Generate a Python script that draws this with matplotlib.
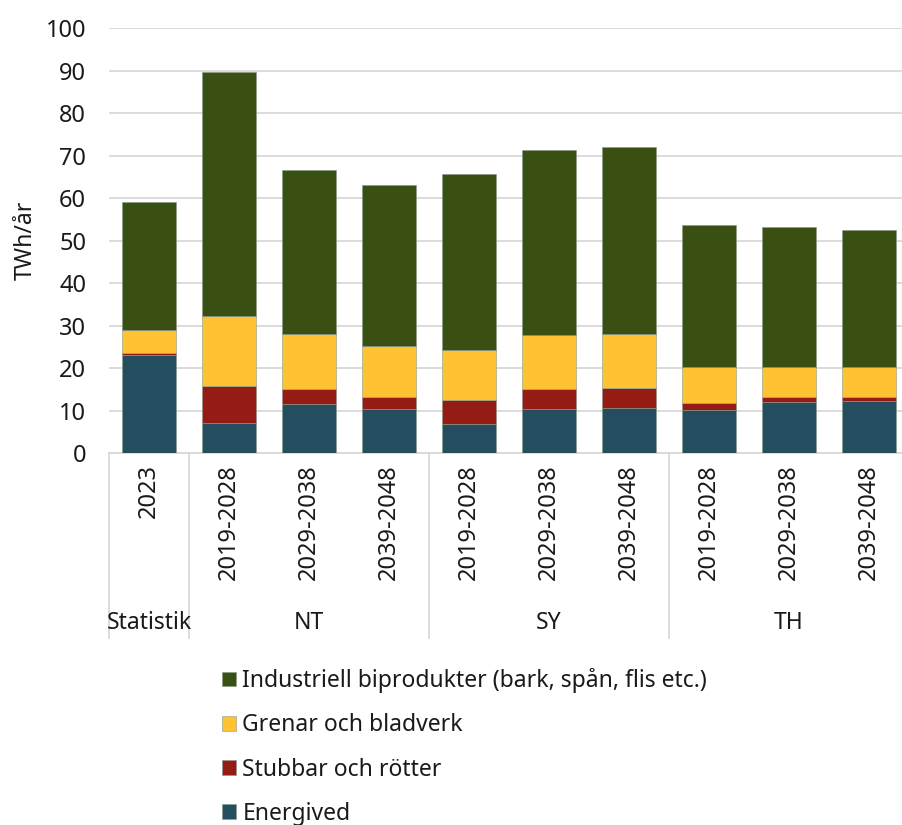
import numpy as np
import matplotlib
matplotlib.use("Agg")
from matplotlib import pyplot as plt
from matplotlib.lines import Line2D

plt.rcParams['font.family'] = ['Noto Sans', 'DejaVu Sans']

# data
groups = ['Statistik', 'NT', 'SY', 'TH']
group_sizes = [1, 3, 3, 3]
periods = ['2023', '2019-2028', '2029-2038', '2039-2048',
           '2019-2028', '2029-2038', '2039-2048',
           '2019-2028', '2029-2038', '2039-2048']

energived = [23.2, 7.2, 11.5, 10.3, 7.0, 10.3, 10.7, 10.1, 12.0, 12.2]
stubbar = [0.5, 8.6, 3.7, 3.0, 5.5, 4.8, 4.6, 1.7, 1.3, 1.1]
grenar = [5.2, 16.6, 12.8, 12.0, 11.9, 12.8, 12.8, 8.6, 7.1, 7.1]
industri = [30.2, 57.2, 38.7, 37.8, 41.3, 43.5, 43.9, 33.3, 32.8, 32.2]

series = [
    ('Energived', energived, '#244E5F'),
    ('Stubbar och rötter', stubbar, '#951B15'),
    ('Grenar och bladverk', grenar, '#FFC233'),
    ('Industriell biprodukter (bark, spån, flis etc.)', industri, '#3A4F12'),
]

TXT = '#1a1a1a'
FS = 16.5

W, H = 902, 825
fig = plt.figure(figsize=(W / 100, H / 100), dpi=100)
ax = fig.add_axes([109 / W, 1 - 453.3 / H, 800 / W, (453.3 - 28) / H])

x = np.arange(len(periods))
bottom = np.zeros(len(periods))
handles = []
for name, vals, col in series:
    b = ax.bar(x, vals, width=0.67, bottom=bottom, color=col,
               edgecolor='#8a9a8a', linewidth=0.4, label=name, zorder=3)
    handles.append(b)
    bottom += np.array(vals)

ax.set_xlim(-0.5, len(periods) - 0.5)
ax.set_ylim(0, 100)
ax.set_yticks(np.arange(0, 101, 10))
ax.tick_params(axis='y', length=0, labelsize=17, pad=16.5, colors=TXT)
ax.yaxis.grid(True, color='#D9D9D9', linewidth=1.3, zorder=0)
for s in ['top', 'right', 'left']:
    ax.spines[s].set_visible(False)
ax.spines['bottom'].set_color('#D9D9D9')
ax.spines['bottom'].set_linewidth(1.3)
ax.set_xticks([])
ax.set_ylabel('TWh/år', fontsize=FS, labelpad=6, color=TXT)

# category labels (two levels)
for i, p in enumerate(periods):
    ax.text(i, -2.6, p, rotation=90, ha='center', va='top',
            fontsize=17, color=TXT, clip_on=False)

line_bottom = -43.5
start = 0
bounds = [-0.5]
for g, n in zip(groups, group_sizes):
    center = start + (n - 1) / 2
    ax.text(center, -39.8, g, ha='center', va='center', fontsize=FS,
            color=TXT, clip_on=False)
    start += n
    bounds.append(start - 0.5)
for bx in bounds:
    ax.add_line(Line2D([bx, bx], [0, line_bottom], color='#D9D9D9',
                       linewidth=1.3, clip_on=False))

# legend
leg = fig.legend(handles[::-1], [s[0] for s in series][::-1],
                 loc='upper left', bbox_to_anchor=(213 / W, 1 - 659 / H),
                 frameon=False, fontsize=FS, labelspacing=0.88,
                 handlelength=0.6, handleheight=0.6, handletextpad=0.28,
                 borderaxespad=0)
for t in leg.get_texts():
    t.set_color(TXT)

fig.savefig('out.png', dpi=100)
